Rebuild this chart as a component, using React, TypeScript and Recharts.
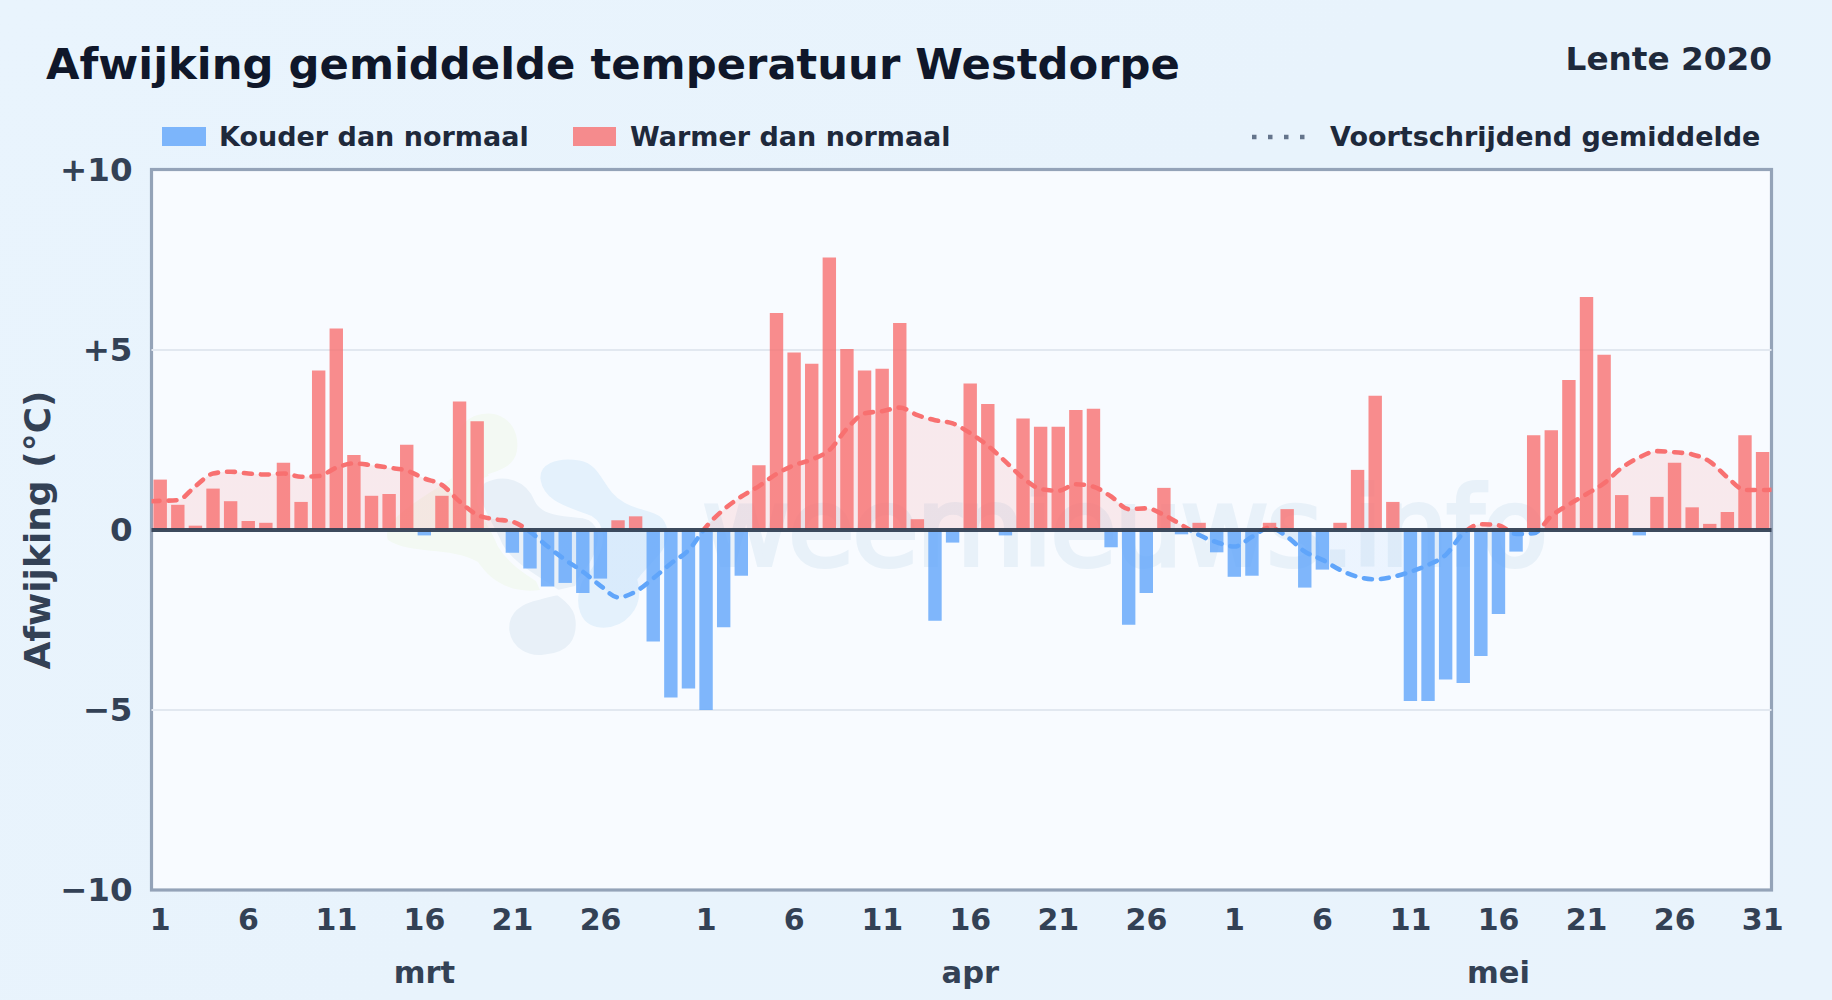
import React from "react";
import {
  ComposedChart, Bar, Area, Line, XAxis, YAxis, CartesianGrid, ReferenceLine, Legend,
} from "recharts";

const monthNames = ["mrt", "apr", "mei"];
const marchAnomaly = [1.4, 0.7, 0.12, 1.15, 0.8, 0.25, 0.2, 1.87, 0.78, 4.43, 5.6, 2.08, 0.95, 1.0, 2.37, -0.15, 0.95, 3.57, 3.02, 0, -0.63, -1.07, -1.57, -1.47, -1.75, -1.35, 0.27, 0.38, -3.1, -4.65, -4.4];
const aprilAnomaly = [-5.0, -2.7, -1.27, 1.8, 6.03, 4.93, 4.62, 7.57, 5.03, 4.43, 4.48, 5.75, 0.3, -2.52, -0.35, 4.07, 3.5, -0.15, 3.1, 2.87, 2.87, 3.33, 3.37, -0.48, -2.63, -1.75, 1.17, -0.12, 0.2, -0.62];
const mayAnomaly = [-1.3, -1.27, 0.2, 0.58, -1.6, -1.1, 0.2, 1.67, 3.73, 0.78, -4.75, -4.75, -4.15, -4.25, -3.5, -2.33, -0.6, 2.63, 2.77, 4.17, 6.47, 4.87, 0.97, -0.15, 0.92, 1.87, 0.63, 0.17, 0.5, 2.63, 2.17];
const marchAverage = [0.81, 0.83, 1.22, 1.57, 1.62, 1.57, 1.54, 1.57, 1.48, 1.5, 1.73, 1.85, 1.8, 1.73, 1.65, 1.43, 1.25, 0.79, 0.42, 0.3, 0.23, -0.05, -0.46, -0.83, -1.16, -1.55, -1.87, -1.71, -1.34, -0.93, -0.56];
const aprilAverage = [0.09, 0.57, 0.93, 1.22, 1.56, 1.8, 1.96, 2.22, 2.82, 3.24, 3.3, 3.4, 3.19, 3.05, 2.96, 2.69, 2.34, 1.9, 1.44, 1.14, 1.09, 1.27, 1.2, 0.93, 0.58, 0.6, 0.42, 0.14, -0.14, -0.34];
const mayAverage = [-0.46, -0.19, 0.07, -0.19, -0.6, -0.83, -1.11, -1.3, -1.37, -1.3, -1.16, -0.97, -0.69, -0.09, 0.16, 0.13, -0.11, -0.09, 0.39, 0.71, 1.0, 1.3, 1.73, 2.02, 2.19, 2.16, 2.1, 1.9, 1.46, 1.11, 1.11];
const averageEdges = [0.8, 1.12];
const yTicks = [10, 5, 0, -5, -10];
const dayTicks = [
  "mrt-1", "mrt-6", "mrt-11", "mrt-16", "mrt-21", "mrt-26",
  "apr-1", "apr-6", "apr-11", "apr-16", "apr-21", "apr-26",
  "mei-1", "mei-6", "mei-11", "mei-16", "mei-21", "mei-26", "mei-31",
];
const monthTicks = ["mrt-16", "apr-16", "mei-16"];

const anomalyByMonth = [marchAnomaly, aprilAnomaly, mayAnomaly];
const averageByMonth = [marchAverage, aprilAverage, mayAverage];

const rows: any[] = [];
const averageRows: any[] = [];
monthNames.forEach((m, mi) => {
  anomalyByMonth[mi].forEach((v, di) => {
    rows.push({
      key: `${m}-${di + 1}`,
      cold: v < 0 ? v : null,
      warm: v > 0 ? v : null,
    });
    averageRows.push({ pos: rows.length - 1, ma: averageByMonth[mi][di] });
  });
});
averageRows.unshift({ pos: -0.5, ma: averageEdges[0] });
averageRows.push({ pos: rows.length - 0.5, ma: averageEdges[1] });

const formatY = (v: number) => (v > 0 ? `+${v}` : v < 0 ? `\u2212${Math.abs(v)}` : "0");
const formatDay = (k: string) => k.split("-")[1];
const formatMonth = (k: string) => k.split("-")[0];

const FONT = "'DejaVu Sans', sans-serif";
const RED = "#f87171";
const BLUE = "#60a5fa";
const PLOT = { left: 151.5, top: 170, width: 1620, height: 720 };

function ChartLegend() {
  const text: React.CSSProperties = {
    position: "absolute", top: 0, height: 34, lineHeight: "34px", fontSize: 27,
    fontWeight: 700, color: "#1e293b", fontFamily: FONT, whiteSpace: "nowrap",
  };
  return (
    <div style={{ position: "relative", width: 1832, height: 50 }}>
      <div style={{ position: "absolute", left: 162, top: 7, width: 44, height: 19, background: BLUE, opacity: 0.8 }} />
      <div style={{ ...text, left: 219 }}>Kouder dan normaal</div>
      <div style={{ position: "absolute", left: 573, top: 7, width: 43, height: 19, background: RED, opacity: 0.8 }} />
      <div style={{ ...text, left: 630 }}>Warmer dan normaal</div>
      <svg style={{ position: "absolute", left: 1250, top: 10 }} width={60} height={14}>
        <line x1={2} x2={58} y1={7} y2={7} stroke="#64748b" strokeWidth={4.5} strokeDasharray="4.5 11.5" />
      </svg>
      <div style={{ ...text, left: 1330 }}>Voortschrijdend gemiddelde</div>
    </div>
  );
}

function Backdrop() {
  return (
    <svg width={1832} height={1000} style={{ position: "absolute", left: 0, top: 0 }}>
      <rect x={PLOT.left} y={PLOT.top - 0.5} width={PLOT.width} height={PLOT.height + 0.5} fill="#f8fbff" stroke="#94a3b8" strokeWidth={3.2} />
      <g>
        <path d="M452 478C452 440 458 418 482 414C506 410 520 430 517 450C515 466 500 470 488 474L540 590C510 594 490 580 478 562C450 546 410 555 388 540C380 520 420 500 452 478Z" fill="#f3f9f3" />
        <path d="M483 481C505 470 528 478 537 500C546 520 590 512 606 520C622 530 624 560 604 574C590 590 560 590 540 597C515 602 505 615 507 632C510 650 528 660 545 657C570 655 580 640 578 620C576 590 520 580 500 545C490 520 470 500 483 481Z" fill="#e8f0f8" stroke="#f8fbff" strokeWidth={5} />
        <path d="M538 480C536 462 556 454 580 458C604 462 605 490 625 500C645 512 665 505 670 530C672 552 655 560 640 580C648 610 625 632 600 630C578 628 570 605 580 580C598 560 610 530 590 518C570 510 542 505 538 480Z" fill="#e4f1fc" stroke="#f8fbff" strokeWidth={5} />
      </g>
      <text x={702} y={565} fontFamily={FONT} fontSize={108} textLength={846} fill="#e8f1f9" stroke="#e8f1f9" strokeWidth={4}>weernieuws.info</text>
    </svg>
  );
}

export default function App() {
  return (
    <div style={{
      position: "absolute", left: 0, top: 0, width: 1832, height: 1000, overflow: "hidden",
      background: "linear-gradient(135deg,#e9f4fd 0%,#e8f3fc 50%,#e9f3fc 100%)", fontFamily: FONT,
    }}>
      <Backdrop />
      <div style={{ position: "absolute", left: 46, top: 39, fontSize: 43.3, fontWeight: 700, color: "#0f172a", whiteSpace: "nowrap" }}>
        Afwijking gemiddelde temperatuur Westdorpe
      </div>
      <div style={{ position: "absolute", right: 60, top: 40, fontSize: 32.7, fontWeight: 700, color: "#1e293b", whiteSpace: "nowrap" }}>
        Lente 2020
      </div>
      <div style={{ position: "absolute", left: 0, top: 0 }}>
        <ComposedChart
          width={1832}
          height={1000}
          data={rows}
          stackOffset="sign"
          margin={{ top: 120, right: 60.5, bottom: 0, left: 0 }}
        >
          <defs>
            <linearGradient id="maStroke" gradientUnits="userSpaceOnUse" x1={0} x2={0} y1={PLOT.top} y2={PLOT.top + PLOT.height}>
              <stop offset="50%" stopColor={RED} />
              <stop offset="50%" stopColor={BLUE} />
            </linearGradient>
            <linearGradient id="maFill" gradientUnits="userSpaceOnUse" x1={0} x2={0} y1={PLOT.top} y2={PLOT.top + PLOT.height}>
              <stop offset="50%" stopColor={RED} stopOpacity={0.13} />
              <stop offset="50%" stopColor={BLUE} stopOpacity={0.08} />
            </linearGradient>
          </defs>
          <Legend verticalAlign="top" height={50} wrapperStyle={{ left: 0, width: 1832 }} content={() => <ChartLegend />} />
          <CartesianGrid vertical={false} horizontalValues={[5, -5]} stroke="#e2e8f0" strokeWidth={2} />
          <XAxis
            dataKey="key"
            ticks={dayTicks}
            interval={0}
            height={55}
            axisLine={false}
            tickLine={false}
            tickSize={0}
            tickMargin={19}
            tickFormatter={formatDay}
            tick={{ fontSize: 30, fontWeight: 700, fill: "#334155", fontFamily: FONT }}
          />
          <XAxis
            xAxisId="month"
            dataKey="key"
            ticks={monthTicks}
            interval={0}
            height={55}
            axisLine={false}
            tickLine={false}
            tickSize={0}
            tickMargin={16}
            tickFormatter={formatMonth}
            tick={{ fontSize: 30.5, fontWeight: 700, fill: "#334155", fontFamily: FONT }}
          />
          <XAxis xAxisId="pos" type="number" dataKey="pos" domain={[-0.5, 91.5]} hide allowDataOverflow />
          <YAxis
            width={151.5}
            domain={[-10, 10]}
            ticks={yTicks}
            interval={0}
            axisLine={false}
            tickLine={false}
            tickSize={0}
            tickMargin={19}
            tickFormatter={formatY}
            tick={{ fontSize: 32.5, fontWeight: 700, fill: "#334155", fontFamily: FONT, dy: -1 }}
            label={{
              value: "Afwijking (°C)", angle: -90, position: "insideLeft", offset: 37,
              style: { fontSize: 36, fontWeight: 700, fill: "#334155", fontFamily: FONT, textAnchor: "middle" },
            }}
          />
          <Area
            xAxisId="pos"
            data={averageRows}
            dataKey="ma"
            type="monotone"
            stroke="none"
            fill="url(#maFill)"
            fillOpacity={1}
            isAnimationActive={false}
            zIndex={100}
            legendType="none"
          />
          <Line
            xAxisId="pos"
            data={averageRows}
            dataKey="ma"
            name="Voortschrijdend gemiddelde"
            type="monotone"
            stroke="url(#maStroke)"
            strokeWidth={4.6}
            strokeDasharray="8 9"
            strokeLinecap="round"
            dot={false}
            activeDot={false}
            isAnimationActive={false}
            zIndex={150}
          />
          <Bar dataKey="cold" name="Kouder dan normaal" stackId="a" barSize={13.4} fill={BLUE} fillOpacity={0.8} isAnimationActive={false} zIndex={300} />
          <Bar dataKey="warm" name="Warmer dan normaal" stackId="a" barSize={13.4} fill={RED} fillOpacity={0.8} isAnimationActive={false} zIndex={300} />
          <ReferenceLine y={0} stroke="#334155" strokeWidth={4.2} strokeOpacity={0.95} zIndex={350} />
        </ComposedChart>
      </div>
    </div>
  );
}
